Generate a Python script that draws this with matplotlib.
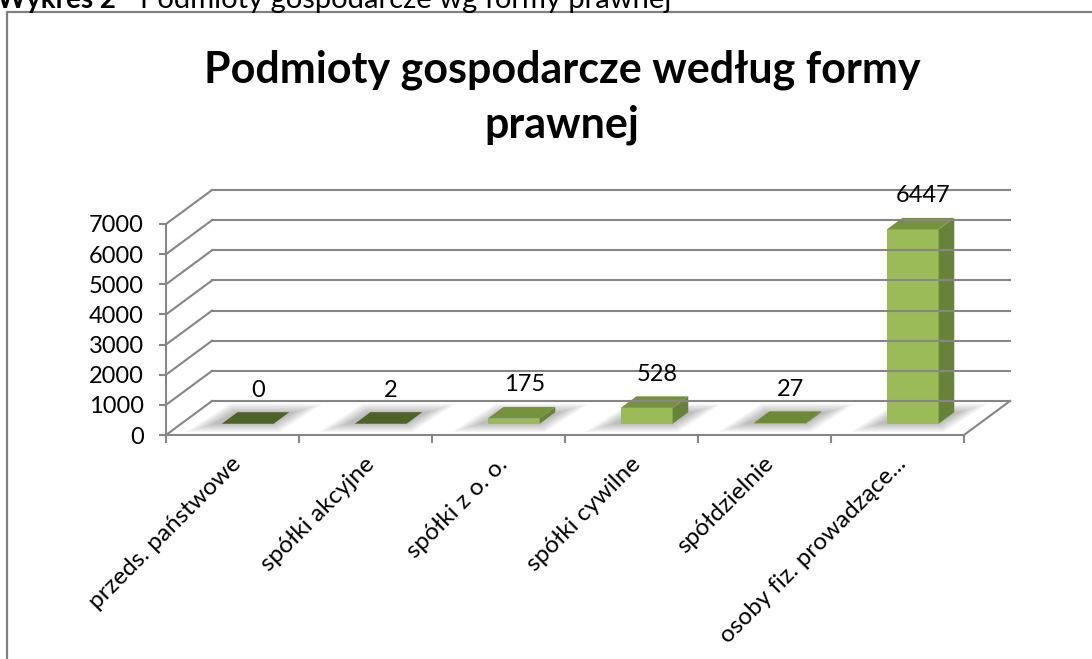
import matplotlib.pyplot as plt
import matplotlib.transforms as mtransforms
from matplotlib.lines import Line2D
from matplotlib.patches import Polygon

plt.rcParams['font.family'] = ['Lato', 'DejaVu Sans']

categories = ["przeds. państwowe", "spółki akcyjne", "spółki z o. o.",
              "spółki cywilne", "spółdzielnie", "osoby fiz. prowadzące..."]
values = [0, 2, 175, 528, 27, 6447]
yticks = [0, 1000, 2000, 3000, 4000, 5000, 6000, 7000]

TITLE = "Podmioty gospodarcze według formy\nprawnej"
CAPTION_BOLD = "Wykres 2"
CAPTION_REST = "Podmioty gospodarcze wg formy prawnej"

GRID = "#868686"
FRONT = "#9BBB59"
SIDE = "#67833A"
TOPS = ["#4F6228", "#4F6228", "#76923C", "#76923C", "#6B8A33", "#76923C"]

DX, DY = 0.346, 1128      # oblique depth offset (category units, value units)
Z0, Z1 = 0.33, 0.67       # depth span of the bars inside the floor
BAR_W = 0.39


def proj(x, y, z):
    return (x + z * DX, y + z * DY)


fig = plt.figure(figsize=(10.92, 6.59), dpi=100)
ax = fig.add_axes([166 / 1092, 1 - 435 / 659, 798 / 1092, 211 / 659])
ax.set_xlim(0, len(categories))
ax.set_ylim(0, 7000)
ax.patch.set_visible(False)
for s in ("top", "right"):
    ax.spines[s].set_visible(False)
for s in ("left", "bottom"):
    ax.spines[s].set_color(GRID)
    ax.spines[s].set_linewidth(1.5)

# walls and floor
n = len(categories)
for v in yticks:
    ax.plot([0, DX], [v, v + DY], color=GRID, lw=1.5, clip_on=False)
    ax.plot([DX, n + DX], [v + DY, v + DY], color=GRID, lw=1.5, clip_on=False)
ax.plot([n, n + DX], [0, DY], color=GRID, lw=1.5, clip_on=False)

# axis ticks
ax.set_yticks(yticks)
ax.tick_params(axis="y", length=5, width=1.5, color=GRID, labelsize=17, pad=11,
               labelcolor="#000000")
centers = [i + 0.5 for i in range(n)]
ax.set_xticks(centers)
ax.set_xticklabels(categories, rotation=45, ha="right", rotation_mode="anchor",
                   fontsize=17.5)
ax.set_xticks(range(n + 1), minor=True)
ax.tick_params(axis="x", which="major", length=0, pad=13)
ax.tick_params(axis="x", which="minor", length=6, width=1.5, color=GRID)
shift = mtransforms.ScaledTranslation(-0.02, 0, fig.dpi_scale_trans)
for lab in ax.get_xticklabels():
    lab.set_transform(lab.get_transform() + shift)

# bars with soft floor shadow
for i, v in enumerate(values):
    c = centers[i]
    x0, x1 = c - BAR_W / 2, c + BAR_W / 2
    for k in range(8):
        e = 0.018 * k
        ez = 0.035 * k
        sh = [proj(x0 - 0.06 - e, 0, Z0 - ez), proj(x1 + e, 0, Z0 - ez),
              proj(x1 + 0.04 + e, 0, Z1 + ez), proj(x0 - 0.02 - e, 0, Z1 + ez)]
        ax.add_patch(Polygon(sh, closed=True, facecolor="black", edgecolor="none",
                             alpha=0.035, clip_on=False))
    front = [proj(x0, 0, Z0), proj(x1, 0, Z0), proj(x1, v, Z0), proj(x0, v, Z0)]
    side = [proj(x1, 0, Z0), proj(x1, 0, Z1), proj(x1, v, Z1), proj(x1, v, Z0)]
    top = [proj(x0, v, Z0), proj(x1, v, Z0), proj(x1, v, Z1), proj(x0, v, Z1)]
    ax.add_patch(Polygon(front, closed=True, facecolor=FRONT, edgecolor="none",
                         clip_on=False))
    ax.add_patch(Polygon(side, closed=True, facecolor=SIDE, edgecolor="none",
                         clip_on=False))
    ax.add_patch(Polygon(top, closed=True, facecolor=TOPS[i], edgecolor="none",
                         clip_on=False))
    ax.annotate(f"{v}", xy=proj(c + 0.02, v, 0.5), xytext=(0, 20),
                textcoords="offset points", ha="center", va="center",
                fontsize=17, annotation_clip=False)

# title and cut-off caption above the chart box
fig.text(562 / 1092, 1 - 97 / 659, TITLE, ha="center", va="center",
         fontsize=31, fontweight="bold", linespacing=1.45)
fig.text(-0.003, 1 - 8 / 659, CAPTION_BOLD, ha="left", va="baseline",
         fontsize=20, fontweight="bold")
fig.text(140 / 1092, 1 - 8 / 659, CAPTION_REST, ha="left", va="baseline",
         fontsize=21)

fig.add_artist(Line2D([7 / 1092, 7 / 1092, 1], [0, 1 - 12 / 659, 1 - 12 / 659],
                      transform=fig.transFigure, color="#808080", lw=1.6))

fig.savefig("out.png", dpi=100)
